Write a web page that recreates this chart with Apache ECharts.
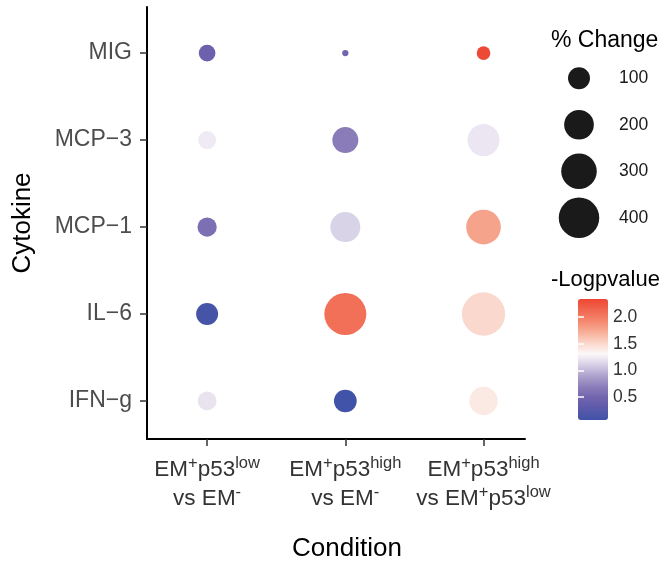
<!DOCTYPE html>
<html>
<head>
<meta charset="utf-8">
</head>
<body style="margin: 0">
<div id="container" style="width: 668px; height: 561px"></div>
<script src="https://cdn.jsdelivr.net/npm/echarts@6/dist/echarts.min.js"></script>
<script>
// conditions, left to right
var conditions = [
    '{m|EM}{s|+}{m|p53}{s|low}\n{m|vs EM}{s|-}',
    '{m|EM}{s|+}{m|p53}{s|high}\n{m|vs EM}{s|-}',
    '{m|EM}{s|+}{m|p53}{s|high}\n{m|vs EM}{s|+}{m|p53}{s|low}'
];
// cytokines, bottom to top
var cytokines = ['IFN\u2212g', 'IL\u22126', 'MCP\u22121', 'MCP\u22123', 'MIG'];
// % change, one row per cytokine, one column per condition
var pctChange = [
    [68, 108, 180],
    [100, 433, 463],
    [73, 205, 284],
    [61, 148, 237],
    [51, 2.3, 30]
];
// -log p value, same layout
var logP = [
    [1.2, 0.08, 1.4],
    [0.12, 2.08, 1.5],
    [0.58, 1.12, 1.78],
    [1.24, 0.68, 1.22],
    [0.45, 0.5, 2.32]
];
var sizeBreaks = [100, 200, 300, 400];
var colorBreaks = [0.5, 1.0, 1.5, 2.0];
var logPRange = [0.07, 2.34];
var colorStops = ['#4053a8', '#5a59aa', '#7163ad', '#8b7db9', '#ada2cd', '#d6cfe6',
    '#fbf8f9', '#fbd6ca', '#f7ae97', '#f4876e', '#f16750', '#ee4634'];

var FONT = '"Liberation Sans", Arial, sans-serif';

function dotSize(v) {
    return 3.5 + 1.85 * Math.sqrt(v);
}

var points = [];
cytokines.forEach(function (c, i) {
    conditions.forEach(function (k, j) {
        points.push([j, i, pctChange[i][j], logP[i][j]]);
    });
});

var chart = echarts.init(document.getElementById('container'), null, {renderer: 'canvas'});

var option = {
    animation: false,
    textStyle: {fontFamily: FONT},
    title: [
        {text: '% Change', left: 551, top: 29, padding: 0,
            textStyle: {fontSize: 23, fontWeight: 'normal', color: '#000', fontFamily: FONT}},
        {text: '-Logpvalue', left: 551, top: 269, padding: 0,
            textStyle: {fontSize: 22, fontWeight: 'normal', color: '#000', fontFamily: FONT}}
    ],
    grid: [
        {left: 147, right: 143, top: 7, bottom: 122, outerBoundsMode: 'none'},
        {left: 560, top: 55, width: 38, height: 186, outerBoundsMode: 'none'},
        {left: 578, top: 299, width: 30, height: 121, outerBoundsMode: 'none'}
    ],
    xAxis: [
        {
            gridIndex: 0, type: 'value', min: -0.435, max: 2.3,
            splitLine: {show: false},
            axisLine: {onZero: false, lineStyle: {color: '#000', width: 2}},
            axisTick: {customValues: [0, 1, 2], length: 7, lineStyle: {color: '#333', width: 1.5}},
            axisLabel: {
                customValues: [0, 1, 2], margin: 16, color: '#333', align: 'center',
                formatter: function (v) { return conditions[Math.round(v)]; },
                rich: {
                    m: {fontSize: 22.5, lineHeight: 29, color: '#333', fontFamily: FONT},
                    s: {fontSize: 16.5, lineHeight: 29, verticalAlign: 'top', color: '#333', fontFamily: FONT}
                }
            },
            name: 'Condition', nameLocation: 'middle', nameGap: 97,
            nameTextStyle: {fontSize: 26, color: '#000', padding: [0, 0, 0, 22]}
        },
        {gridIndex: 1, type: 'value', min: 0, max: 1, show: false},
        {gridIndex: 2, type: 'value', min: 0, max: 1, show: false}
    ],
    yAxis: [
        {
            gridIndex: 0, type: 'value', min: -0.437, max: 4.53,
            splitLine: {show: false},
            axisLine: {onZero: false, lineStyle: {color: '#000', width: 2}},
            axisTick: {customValues: [0, 1, 2, 3, 4], length: 7, lineStyle: {color: '#333', width: 1.5}},
            axisLabel: {
                customValues: [0, 1, 2, 3, 4], margin: 15, fontSize: 23, color: '#4d4d4d',
                formatter: function (v) { return cytokines[Math.round(v)]; }
            },
            name: 'Cytokine', nameLocation: 'middle', nameGap: 111,
            nameTextStyle: {fontSize: 26, color: '#000'}
        },
        {
            gridIndex: 1, type: 'category', inverse: true, position: 'right',
            data: sizeBreaks.map(String),
            axisLine: {show: false}, axisTick: {show: false},
            axisLabel: {margin: 21, fontSize: 17.5, color: '#1a1a1a'}
        },
        {
            gridIndex: 2, type: 'value', position: 'right', min: logPRange[0], max: logPRange[1], z: 10,
            splitLine: {show: false}, axisLine: {show: false},
            axisTick: {customValues: colorBreaks, inside: true, length: 6, lineStyle: {color: '#fff', width: 1.5}},
            axisLabel: {customValues: colorBreaks, margin: 5, fontSize: 17.5, color: '#333',
                formatter: function (v) { return v.toFixed(1); }}
        },
        {
            gridIndex: 2, type: 'value', position: 'left', min: logPRange[0], max: logPRange[1], z: 10,
            splitLine: {show: false}, axisLine: {show: false},
            axisTick: {customValues: colorBreaks, inside: true, length: 6, lineStyle: {color: '#fff', width: 1.5}},
            axisLabel: {show: false}
        }
    ],
    visualMap: {
        type: 'continuous', seriesIndex: 0, dimension: 3,
        min: logPRange[0], max: logPRange[1],
        inRange: {color: colorStops},
        left: 573, top: 294, padding: 5,
        itemWidth: 30, itemHeight: 121,
        calculable: false, hoverLink: false
    },
    series: [
        {
            type: 'scatter', xAxisIndex: 0, yAxisIndex: 0,
            data: points,
            itemStyle: {opacity: 1},
            symbolSize: function (v) { return dotSize(v[2]); }
        },
        {
            type: 'scatter', xAxisIndex: 1, yAxisIndex: 1,
            data: sizeBreaks.map(function (v, i) { return [0.5, i, v]; }),
            symbolSize: function (v) { return dotSize(v[2]); },
            itemStyle: {color: '#1a1a1a', opacity: 1}
        }
    ]
};

chart.setOption(option);
window.addEventListener('resize', chart.resize);
</script>
</body>
</html>
